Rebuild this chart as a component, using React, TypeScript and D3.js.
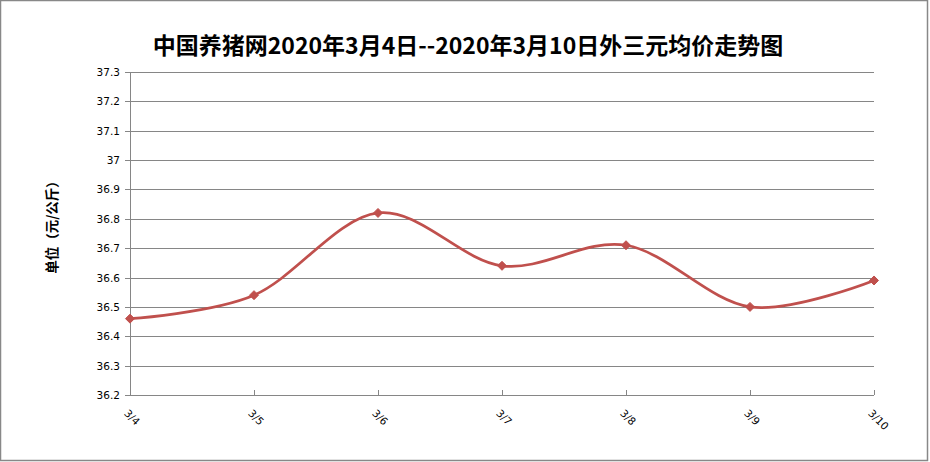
import React from "react";
import * as d3 from "d3";

const title = "中国养猪网2020年3月4日--2020年3月10日外三元均价走势图";
const yTitle = "单位（元/公斤）";
const categories = ["3/4", "3/5", "3/6", "3/7", "3/8", "3/9", "3/10"];
const prices = [36.46, 36.54, 36.82, 36.64, 36.71, 36.5, 36.59];
const yTicks = [36.2, 36.3, 36.4, 36.5, 36.6, 36.7, 36.8, 36.9, 37, 37.1, 37.2, 37.3];

const W = 930;
const H = 462;
const left = 130;
const right = 874;
const top = 72;
const bottom = 395;

export default function App() {
  const x = d3
    .scalePoint<string>()
    .domain(categories)
    .range([left, right]);
  const y = d3.scaleLinear().domain([36.2, 37.3]).range([bottom, top]);
  const line = d3
    .line<number>()
    .x((_, i) => x(categories[i]) as number)
    .y((d) => y(d))
    .curve(d3.curveCardinal.tension(0));
  const grid = "#868686";
  const red = "#C0504D";
  const tickFont = "'DejaVu Sans', Verdana, sans-serif";
  const cjk = "'Noto Sans CJK SC', sans-serif";
  return (
    <svg
      width={W}
      height={H}
      style={{ position: "absolute", left: 0, top: 0, background: "#fff" }}
    >
      <rect x={0.5} y={0.5} width={W - 3} height={H - 2} fill="#fff" stroke="#888" strokeWidth={1.5} />
      <text
        x={468}
        y={54}
        textAnchor="middle"
        fontFamily={cjk}
        fontWeight="bold"
        fontSize={23}
        fill="#000"
      >
        {title}
      </text>
      {yTicks.map((t) => (
        <g key={t}>
          <line x1={left - 5} x2={right} y1={Math.round(y(t)) + 0.5} y2={Math.round(y(t)) + 0.5} stroke={grid} strokeWidth={1} />
          <text
            x={120}
            y={y(t) + 4}
            textAnchor="end"
            fontFamily={tickFont}
            fontSize={10.5}
            fill="#000"
          >
            {d3.format("~g")(t)}
          </text>
        </g>
      ))}
      <line x1={left + 0.5} x2={left + 0.5} y1={top} y2={bottom} stroke={grid} />
      {categories.map((c) => {
        const cx = Math.round(x(c) as number) + 0.5;
        return (
          <g key={c}>
            <line x1={cx} x2={cx} y1={bottom - 5} y2={bottom} stroke={grid} />
            <text
              transform={`translate(${cx - 7},${414}) rotate(45)`}
              fontFamily={tickFont}
              fontSize={10.5}
              fill="#000"
            >
              {c}
            </text>
          </g>
        );
      })}
      <text
        transform={`translate(57,224) rotate(-90)`}
        textAnchor="middle"
        fontFamily={cjk}
        fontWeight="bold"
        fontSize={13.5}
        fill="#000"
      >
        {yTitle}
      </text>
      <path d={line(prices) || ""} fill="none" stroke={red} strokeWidth={2.75} strokeLinejoin="round" />
      {prices.map((p, i) => {
        const px = x(categories[i]) as number;
        const py = y(p);
        const s = 4.5;
        return (
          <path
            key={i}
            d={`M${px},${py - s}L${px + s},${py}L${px},${py + s}L${px - s},${py}Z`}
            fill={red}
            stroke={red}
            strokeWidth={1}
          />
        );
      })}
    </svg>
  );
}
